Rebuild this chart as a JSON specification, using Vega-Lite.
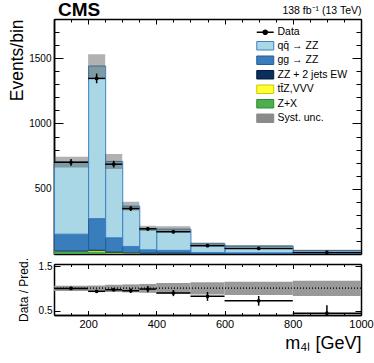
{
  "$schema": "https://vega.github.io/schema/vega-lite/v6.json",
  "padding": {"left": 8, "top": 0, "right": 10, "bottom": 2},
  "config": {
    "font": "Liberation Sans",
    "view": {"stroke": null},
    "axis": {"grid": false, "domainColor": "black", "domainWidth": 1.5, "tickColor": "black", "tickWidth": 1, "labelColor": "black", "titleColor": "black", "titleFontWeight": "normal", "labelFont": "Liberation Sans", "titleFont": "Liberation Sans", "zindex": 1, "labelFlush": false, "labelOverlap": false}
  },
  "datasets": {
    "stack": [
      {"lo": 100, "hi": 200, "proc": "Z+X", "ord": 1, "v": 22},
      {"lo": 100, "hi": 200, "proc": "tt̄Z,VVV", "ord": 2, "v": 1},
      {"lo": 100, "hi": 200, "proc": "ZZ + 2 jets EW", "ord": 3, "v": 2},
      {"lo": 100, "hi": 200, "proc": "gg → ZZ", "ord": 4, "v": 127},
      {"lo": 100, "hi": 200, "proc": "qq̄ → ZZ", "ord": 5, "v": 552},
      {"lo": 200, "hi": 250, "proc": "Z+X", "ord": 1, "v": 20},
      {"lo": 200, "hi": 250, "proc": "tt̄Z,VVV", "ord": 2, "v": 8},
      {"lo": 200, "hi": 250, "proc": "ZZ + 2 jets EW", "ord": 3, "v": 3},
      {"lo": 200, "hi": 250, "proc": "gg → ZZ", "ord": 4, "v": 240},
      {"lo": 200, "hi": 250, "proc": "qq̄ → ZZ", "ord": 5, "v": 1169},
      {"lo": 250, "hi": 300, "proc": "Z+X", "ord": 1, "v": 8},
      {"lo": 250, "hi": 300, "proc": "tt̄Z,VVV", "ord": 2, "v": 6},
      {"lo": 250, "hi": 300, "proc": "ZZ + 2 jets EW", "ord": 3, "v": 3},
      {"lo": 250, "hi": 300, "proc": "gg → ZZ", "ord": 4, "v": 107},
      {"lo": 250, "hi": 300, "proc": "qq̄ → ZZ", "ord": 5, "v": 585},
      {"lo": 300, "hi": 350, "proc": "Z+X", "ord": 1, "v": 4},
      {"lo": 300, "hi": 350, "proc": "tt̄Z,VVV", "ord": 2, "v": 4},
      {"lo": 300, "hi": 350, "proc": "ZZ + 2 jets EW", "ord": 3, "v": 3},
      {"lo": 300, "hi": 350, "proc": "gg → ZZ", "ord": 4, "v": 47},
      {"lo": 300, "hi": 350, "proc": "qq̄ → ZZ", "ord": 5, "v": 309},
      {"lo": 350, "hi": 400, "proc": "Z+X", "ord": 1, "v": 3},
      {"lo": 350, "hi": 400, "proc": "tt̄Z,VVV", "ord": 2, "v": 3},
      {"lo": 350, "hi": 400, "proc": "ZZ + 2 jets EW", "ord": 3, "v": 3},
      {"lo": 350, "hi": 400, "proc": "gg → ZZ", "ord": 4, "v": 23},
      {"lo": 350, "hi": 400, "proc": "qq̄ → ZZ", "ord": 5, "v": 164},
      {"lo": 400, "hi": 500, "proc": "Z+X", "ord": 1, "v": 3},
      {"lo": 400, "hi": 500, "proc": "tt̄Z,VVV", "ord": 2, "v": 3},
      {"lo": 400, "hi": 500, "proc": "ZZ + 2 jets EW", "ord": 3, "v": 4},
      {"lo": 400, "hi": 500, "proc": "gg → ZZ", "ord": 4, "v": 18},
      {"lo": 400, "hi": 500, "proc": "qq̄ → ZZ", "ord": 5, "v": 162},
      {"lo": 500, "hi": 600, "proc": "Z+X", "ord": 1, "v": 1},
      {"lo": 500, "hi": 600, "proc": "tt̄Z,VVV", "ord": 2, "v": 1},
      {"lo": 500, "hi": 600, "proc": "ZZ + 2 jets EW", "ord": 3, "v": 3},
      {"lo": 500, "hi": 600, "proc": "gg → ZZ", "ord": 4, "v": 6},
      {"lo": 500, "hi": 600, "proc": "qq̄ → ZZ", "ord": 5, "v": 67},
      {"lo": 600, "hi": 800, "proc": "Z+X", "ord": 1, "v": 1},
      {"lo": 600, "hi": 800, "proc": "tt̄Z,VVV", "ord": 2, "v": 1},
      {"lo": 600, "hi": 800, "proc": "ZZ + 2 jets EW", "ord": 3, "v": 3},
      {"lo": 600, "hi": 800, "proc": "gg → ZZ", "ord": 4, "v": 4},
      {"lo": 600, "hi": 800, "proc": "qq̄ → ZZ", "ord": 5, "v": 51},
      {"lo": 800, "hi": 1000, "proc": "Z+X", "ord": 1, "v": 0.5},
      {"lo": 800, "hi": 1000, "proc": "tt̄Z,VVV", "ord": 2, "v": 0.5},
      {"lo": 800, "hi": 1000, "proc": "ZZ + 2 jets EW", "ord": 3, "v": 2},
      {"lo": 800, "hi": 1000, "proc": "gg → ZZ", "ord": 4, "v": 2},
      {"lo": 800, "hi": 1000, "proc": "qq̄ → ZZ", "ord": 5, "v": 22}
    ],
    "bins": [
      {"lo": 100, "hi": 200, "mid": 150, "pred": 704, "slo": 663, "shi": 745, "data": 702, "dlo": 676, "dhi": 728, "r": 1.0, "rlo": 0.965, "rhi": 1.035, "blo": 0.942, "bhi": 1.058},
      {"lo": 200, "hi": 250, "mid": 225, "pred": 1440, "slo": 1350, "shi": 1530, "data": 1345, "dlo": 1308, "dhi": 1382, "r": 0.934, "rlo": 0.908, "rhi": 0.96, "blo": 0.937, "bhi": 1.063},
      {"lo": 250, "hi": 300, "mid": 275, "pred": 709, "slo": 652, "shi": 766, "data": 688, "dlo": 662, "dhi": 714, "r": 0.97, "rlo": 0.934, "rhi": 1.006, "blo": 0.92, "bhi": 1.08},
      {"lo": 300, "hi": 350, "mid": 325, "pred": 367, "slo": 334, "shi": 400, "data": 348, "dlo": 329, "dhi": 367, "r": 0.948, "rlo": 0.897, "rhi": 0.999, "blo": 0.91, "bhi": 1.09},
      {"lo": 350, "hi": 400, "mid": 375, "pred": 196, "slo": 176, "shi": 216, "data": 193, "dlo": 179, "dhi": 207, "r": 0.985, "rlo": 0.914, "rhi": 1.056, "blo": 0.9, "bhi": 1.1},
      {"lo": 400, "hi": 500, "mid": 450, "pred": 190, "slo": 167, "shi": 213, "data": 170, "dlo": 157, "dhi": 183, "r": 0.895, "rlo": 0.826, "rhi": 0.964, "blo": 0.88, "bhi": 1.12},
      {"lo": 500, "hi": 600, "mid": 550, "pred": 78, "slo": 67, "shi": 89, "data": 64, "dlo": 56, "dhi": 72, "r": 0.82, "rlo": 0.72, "rhi": 0.92, "blo": 0.86, "bhi": 1.14},
      {"lo": 600, "hi": 800, "mid": 700, "pred": 60, "slo": 51, "shi": 69, "data": 43, "dlo": 36.5, "dhi": 49.5, "r": 0.72, "rlo": 0.61, "rhi": 0.83, "blo": 0.85, "bhi": 1.15},
      {"lo": 800, "hi": 1000, "mid": 900, "pred": 27, "slo": 22.4, "shi": 31.6, "data": 12, "dlo": 8.5, "dhi": 15.5, "r": 0.44, "rlo": 0.31, "rhi": 0.62, "blo": 0.83, "bhi": 1.17}
    ]
  },
  "spacing": 0,
  "resolve": {"scale": {"color": "independent", "stroke": "independent"}, "legend": {"color": "independent"}},
  "vconcat": [
    {
      "width": 307,
      "height": 235,
      "title": {"text": "CMS", "anchor": "start", "frame": "group", "fontSize": 19, "fontWeight": "bold", "font": "Liberation Sans", "offset": -14, "dx": 4, "color": "black"},
      "layer": [
        {
          "layer": [
            {
              "data": {"name": "stack"},
              "mark": {"type": "bar", "strokeWidth": 1, "binSpacing": 0, "clip": true},
              "encoding": {
                "x": {"field": "lo", "type": "quantitative", "bin": "binned", "scale": {"domain": [100, 1000], "nice": false, "zero": false}, "axis": null},
                "x2": {"field": "hi"},
                "y": {"field": "v", "type": "quantitative", "stack": "zero", "scale": {"domain": [0, 1800], "nice": false},
                  "axis": {"orient": "left", "values": [500, 1000, 1500], "format": "d", "tickSize": -9, "labelPadding": 12, "labelFontSize": 10, "title": "Events/bin", "titleFontSize": 17.5, "titleAnchor": "end", "titlePadding": 2}},
                "color": {"field": "proc", "type": "nominal",
                  "scale": {"domain": ["Data", "qq̄ → ZZ", "gg → ZZ", "ZZ + 2 jets EW", "tt̄Z,VVV", "Z+X", "Syst. unc."], "range": ["black", "#aad7e6", "#3a7dbd", "#0a2f5e", "#ffff33", "#4cae4c", "#8a8a8a"]},
                  "legend": {"orient": "none", "legendX": 206, "legendY": 8, "title": null, "symbolSize": 72, "labelFontSize": 10.5, "labelFont": "Liberation Sans", "labelColor": "black", "labelOffset": 7, "rowPadding": 1.5, "padding": 0, "labelLimit": 200,
                    "encode": {"symbols": {"update": {
                      "shape": {"signal": "datum.value === 'Data' ? 'M-2,0H2M-0.5,0A0.5,0.5,0,1,0,0.5,0A0.5,0.5,0,1,0,-0.5,0Z' : 'M-2,-1H2V1H-2Z'"},
                      "stroke": {"signal": "datum.value === 'Data' ? 'black' : datum.value === 'qq̄ → ZZ' ? '#3d82c4' : datum.value === 'gg → ZZ' ? '#255d96' : datum.value === 'ZZ + 2 jets EW' ? '#001a3a' : datum.value === 'tt̄Z,VVV' ? '#c9c900' : datum.value === 'Z+X' ? '#2e8b2e' : '#8a8a8a'"},
                      "strokeWidth": {"signal": "datum.value === 'Data' ? 1.5 : 1"},
                      "opacity": {"value": 1}
                    }}}}},
                "stroke": {"field": "proc", "type": "nominal",
                  "scale": {"domain": ["qq̄ → ZZ", "gg → ZZ", "ZZ + 2 jets EW", "tt̄Z,VVV", "Z+X"], "range": ["#3d82c4", "#255d96", "#0a2f5e", "#d8d800", "#3c9a3c"]}, "legend": null},
                "order": {"field": "ord", "type": "quantitative"}
              }
            },
            {
              "data": {"name": "bins"},
              "mark": {"type": "rect", "color": "#444444", "opacity": 0.42},
              "encoding": {
                "x": {"field": "lo", "type": "quantitative"},
                "x2": {"field": "hi"},
                "y": {"field": "slo", "type": "quantitative"},
                "y2": {"field": "shi"}
              }
            },
            {
              "data": {"name": "bins"},
              "mark": {"type": "rule", "color": "black", "strokeWidth": 1.5},
              "encoding": {
                "x": {"field": "lo", "type": "quantitative"},
                "x2": {"field": "hi"},
                "y": {"field": "data", "type": "quantitative"}
              }
            },
            {
              "data": {"name": "bins"},
              "mark": {"type": "rule", "color": "black", "strokeWidth": 1.5},
              "encoding": {
                "x": {"field": "mid", "type": "quantitative"},
                "y": {"field": "dlo", "type": "quantitative"},
                "y2": {"field": "dhi"}
              }
            },
            {
              "data": {"name": "bins"},
              "mark": {"type": "point", "filled": true, "color": "black", "opacity": 1, "size": 14},
              "encoding": {
                "x": {"field": "mid", "type": "quantitative"},
                "y": {"field": "data", "type": "quantitative"}
              }
            }
          ]
        },
        {
          "data": {"values": [{}]},
          "mark": {"type": "point", "opacity": 0},
          "encoding": {
            "x": {"datum": 100, "type": "quantitative", "scale": {"domain": [100, 1000], "nice": false, "zero": false},
              "axis": {"orient": "top", "values": [100,150,200,250,300,350,400,450,500,550,600,650,700,750,800,850,900,950,1000], "tickSize": {"condition": {"test": "datum.value % 200 === 0", "value": -5}, "value": -3}, "labels": false, "title": "138 fb⁻¹ (13 TeV)", "titleAnchor": "end", "titleFontSize": 10.5, "titlePadding": 3}},
            "y": {"datum": 0, "type": "quantitative", "scale": {"domain": [0, 1800], "nice": false},
              "axis": {"orient": "right", "values": [100,200,300,400,500,600,700,800,900,1000,1100,1200,1300,1400,1500,1600,1700,1800], "tickSize": {"condition": {"test": "datum.value % 500 === 0", "value": -9}, "value": -5}, "labels": false, "title": null}}
          }
        },
        {
          "data": {"values": [{}]},
          "mark": {"type": "point", "opacity": 0},
          "encoding": {
            "x": {"datum": 100, "type": "quantitative", "scale": {"domain": [100, 1000], "nice": false, "zero": false},
              "axis": {"orient": "bottom", "values": [100,150,200,250,300,350,400,450,500,550,600,650,700,750,800,850,900,950,1000], "tickSize": {"condition": {"test": "datum.value % 200 === 0", "value": -5}, "value": -3}, "labels": false, "title": null}},
            "y": {"datum": 0, "type": "quantitative", "scale": {"domain": [0, 1800], "nice": false},
              "axis": {"orient": "left", "values": [100,200,300,400,600,700,800,900,1100,1200,1300,1400,1600,1700,1800], "tickSize": -5, "labels": false, "title": null}}
          }
        }
      ],
      "resolve": {"scale": {"x": "independent", "y": "independent"}}
    },
    {
      "width": 307,
      "height": 51,
      "layer": [
        {
          "data": {"name": "bins"},
          "layer": [
            {
              "mark": {"type": "rect", "color": "#999999", "opacity": 1},
              "encoding": {
                "x": {"field": "lo", "type": "quantitative", "scale": {"domain": [100, 1000], "nice": false, "zero": false},
                  "axis": {"orient": "bottom", "values": [200, 400, 600, 800, 1000], "format": "d", "tickSize": -4.5, "labelPadding": 8, "labelFontSize": 11, "title": "m₄ₗ [GeV]", "titleFontSize": 18, "titleAnchor": "end", "titlePadding": 5}},
                "x2": {"field": "hi"},
                "y": {"field": "blo", "type": "quantitative", "scale": {"domain": [0.4, 1.55], "nice": false, "zero": false},
                  "axis": {"orient": "left", "values": [0.5, 1, 1.5], "format": "~g", "tickSize": -6, "labelPadding": 8, "labelFontSize": 10, "title": "Data / Pred.", "titleFontSize": 12, "titlePadding": 8}},
                "y2": {"field": "bhi"}
              }
            },
            {
              "mark": {"type": "rule", "color": "#222222", "strokeWidth": 1, "strokeDash": [1, 2]},
              "encoding": {"y": {"datum": 1, "type": "quantitative"}}
            },
            {
              "mark": {"type": "rule", "color": "black", "strokeWidth": 1.5, "clip": true},
              "encoding": {
                "x": {"field": "lo", "type": "quantitative"},
                "x2": {"field": "hi"},
                "y": {"field": "r", "type": "quantitative"}
              }
            },
            {
              "mark": {"type": "rule", "color": "black", "strokeWidth": 1.5, "clip": true},
              "encoding": {
                "x": {"field": "mid", "type": "quantitative"},
                "y": {"field": "rlo", "type": "quantitative"},
                "y2": {"field": "rhi"}
              }
            },
            {
              "mark": {"type": "point", "filled": true, "color": "black", "opacity": 1, "size": 14, "clip": true},
              "encoding": {
                "x": {"field": "mid", "type": "quantitative"},
                "y": {"field": "r", "type": "quantitative"}
              }
            }
          ]
        },
        {
          "data": {"values": [{}]},
          "mark": {"type": "point", "opacity": 0},
          "encoding": {
            "x": {"datum": 100, "type": "quantitative", "scale": {"domain": [100, 1000], "nice": false, "zero": false},
              "axis": {"orient": "top", "values": [100,150,200,250,300,350,400,450,500,550,600,650,700,750,800,850,900,950,1000], "tickSize": {"condition": {"test": "datum.value % 200 === 0", "value": -4.5}, "value": -2.5}, "labels": false, "title": null}},
            "y": {"datum": 1, "type": "quantitative", "scale": {"domain": [0.4, 1.55], "nice": false, "zero": false},
              "axis": {"orient": "right", "values": [0.5, 1, 1.5], "tickSize": -6, "labels": false, "title": null}}
          }
        },
        {
          "data": {"values": [{}]},
          "mark": {"type": "point", "opacity": 0},
          "encoding": {
            "x": {"datum": 100, "type": "quantitative", "scale": {"domain": [100, 1000], "nice": false, "zero": false},
              "axis": {"orient": "bottom", "values": [150,250,300,350,450,500,550,650,700,750,850,900,950], "tickSize": -2.5, "labels": false, "title": null}}
          }
        }
      ],
      "resolve": {"scale": {"x": "independent", "y": "independent"}}
    }
  ]
}
